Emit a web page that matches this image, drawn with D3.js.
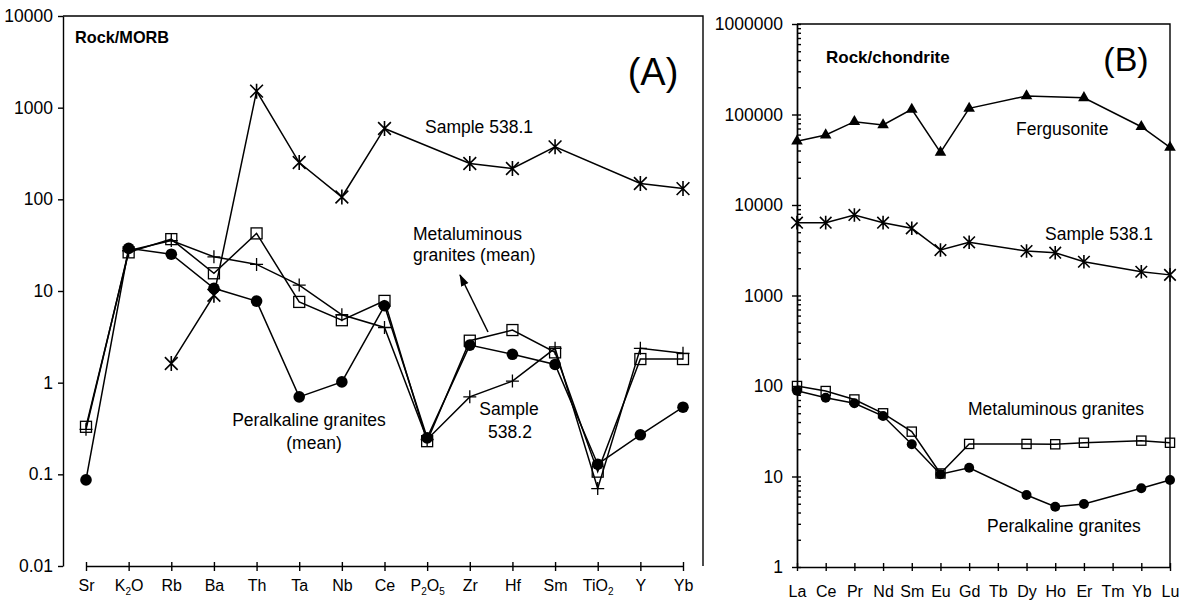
<!DOCTYPE html>
<html>
<head>
<meta charset="utf-8">
<script src="https://cdn.jsdelivr.net/npm/d3@7"></script>
<style>
  body { margin: 0; background: #fff; }
  svg { font-family: 'Liberation Sans', Arial, sans-serif; }
  .axis path, .axis line { stroke: #000; stroke-width: 1.4; }
  .axis text { fill: #000; }
  .frame { stroke: #000; stroke-width: 1.4; }
  .series { fill: none; stroke: #000; stroke-width: 1.5; }
  .note { font-size: 17.5px; fill: #000; }
</style>
</head>
<body>
<div id="chart"></div>
<script>
// (A) trace elements normalised to MORB
var elementsA = ['Sr', 'K2O', 'Rb', 'Ba', 'Th', 'Ta', 'Nb', 'Ce', 'P2O5', 'Zr', 'Hf', 'Sm', 'TiO2', 'Y', 'Yb'];
var ticksA = [0.01, 0.1, 1, 10, 100, 1000, 10000];
var sample5381A = [null, null, 1.62, 9.0, 1514, 252, 106, 593, null, 246, 217, 374, null, 149, 131];
var metaluminousA = [0.33, 26.4, 36.8, 15.6, 42.5, 7.6, 4.8, 7.8, 0.23, 2.87, 3.75, 2.14, 0.107, 1.81, 1.81];
var peralkalineA = [0.087, 29.2, 25.2, 10.7, 7.76, 0.70, 1.02, 6.9, 0.25, 2.57, 2.04, 1.58, 0.129, 0.27, 0.54];
var sample5382A = [0.31, 27.5, 35.5, 23.6, 19.5, 11.6, 5.5, 4.0, 0.24, 0.70, 1.04, 2.37, 0.070, 2.37, 2.09];

// (B) rare earth elements normalised to chondrite
var elementsB = ['La', 'Ce', 'Pr', 'Nd', 'Sm', 'Eu', 'Gd', 'Tb', 'Dy', 'Ho', 'Er', 'Tm', 'Yb', 'Lu'];
var ticksB = [1, 10, 100, 1000, 10000, 100000, 1000000];
var fergusoniteB = [50600, 59300, 83300, 76500, 114000, 38200, 117000, null, 160000, null, 153000, null, 73300, 43400];
var sample5381B = [6380, 6380, 7760, 6380, 5530, 3180, 3870, null, 3100, 2970, 2360, null, 1830, 1690];
var metaluminousB = [100, 88, 71, 49.9, 31.3, 10.8, 22.9, null, 22.9, 22.7, 23.6, null, 24.9, 23.6];
var peralkalineB = [88.7, 74.3, 64.4, 46.6, 22.7, 10.6, 12.5, null, 6.25, 4.64, 4.97, null, 7.4, 9.15];

var svg = d3
  .select('#chart')
  .append('svg')
  .attr('width', 1192)
  .attr('height', 602);

svg
  .append('defs')
  .append('marker')
  .attr('id', 'arrowhead')
  .attr('markerUnits', 'userSpaceOnUse')
  .attr('markerWidth', 12)
  .attr('markerHeight', 10)
  .attr('refX', 11)
  .attr('refY', 4)
  .attr('orient', 'auto')
  .append('path')
  .attr('d', 'M0,0 L12,4 L0,8 Z')
  .attr('fill', '#000');

// pair each element with its value, dropping the ones not analysed
function zip(elements, values) {
  return elements
    .map(function (el, i) {
      return { el: el, v: values[i] };
    })
    .filter(function (d) {
      return d.v != null;
    });
}

// element names like K2O get their digits set as subscripts
function subscriptLabels(sel) {
  sel.each(function (d) {
    var t = d3.select(this).text('');
    var parts = String(d).split(/(\d)/).filter(function (p) {
      return p !== '';
    });
    var down = false;
    parts.forEach(function (p) {
      var ts = t.append('tspan').text(p);
      if (/\d/.test(p)) {
        ts.attr('font-size', '10px').attr('dy', down ? 0 : 4);
        down = true;
      } else if (down) {
        ts.attr('dy', -4);
        down = false;
      }
    });
  });
}

function formatTick(d) {
  return d >= 1 ? d3.format('d')(d) : String(d);
}

function drawMarkers(g, data, x, y, type, s) {
  var pts = g
    .append('g')
    .selectAll('myPoints')
    .data(data)
    .enter()
    .append('g')
    .attr('transform', function (d) {
      return 'translate(' + x(d.el) + ',' + y(d.v) + ')';
    });

  if (type === 'circle') {
    pts.append('circle').attr('r', s).attr('fill', '#000');
  } else if (type === 'square') {
    pts
      .append('rect')
      .attr('x', -s)
      .attr('y', -s)
      .attr('width', 2 * s)
      .attr('height', 2 * s)
      .attr('fill', 'none')
      .attr('stroke', '#000')
      .attr('stroke-width', 1.3);
  } else if (type === 'plus') {
    pts
      .append('path')
      .attr('d', 'M' + -s + ',0H' + s + 'M0,' + -s + 'V' + s)
      .attr('stroke', '#000')
      .attr('stroke-width', 1.3);
  } else if (type === 'asterisk') {
    var k = s * 0.85;
    pts
      .append('path')
      .attr('d',
        'M' + -k + ',' + -k + 'L' + k + ',' + k +
        'M' + -k + ',' + k + 'L' + k + ',' + -k +
        'M0,' + -s + 'V' + s)
      .attr('stroke', '#000')
      .attr('stroke-width', 1.6);
  } else if (type === 'triangle') {
    pts
      .append('path')
      .attr('d', d3.symbol(d3.symbolTriangle, s)())
      .attr('fill', '#000');
  }
}

function drawSeries(g, series, x, y) {
  var line = d3
    .line()
    .x(function (d) {
      return x(d.el);
    })
    .y(function (d) {
      return y(d.v);
    });

  series.forEach(function (s) {
    g.append('path').attr('class', 'series').attr('d', line(s.data));
  });
  series.forEach(function (s) {
    drawMarkers(g, s.data, x, y, s.type, s.size);
  });
}

// ---------- panel A ----------
var wA = 640,
  hA = 550;
var gA = svg.append('g').attr('transform', 'translate(63,16)');

var xA = d3.scalePoint().domain(elementsA).range([23, 620]);
var yA = d3.scaleLog().domain([0.01, 10000]).range([hA, 0]);

gA.append('path')
  .attr('class', 'frame')
  .attr('fill', 'none')
  .attr('d', 'M0,0H' + wA + 'V' + hA);

var yAxisA = gA
  .append('g')
  .attr('class', 'axis')
  .call(d3.axisLeft(yA).tickValues(ticksA).tickFormat(formatTick).tickSize(5).tickSizeOuter(0).tickPadding(5));
yAxisA.selectAll('text').style('font-size', '17.5px');

var xAxisA = gA
  .append('g')
  .attr('class', 'axis')
  .attr('transform', 'translate(0,' + hA + ')')
  .call(d3.axisBottom(xA).tickSize(0).tickSizeOuter(0));
xAxisA.selectAll('.tick line').attr('y1', -4).attr('y2', 5);
xAxisA
  .selectAll('.tick text')
  .attr('y', 25)
  .attr('dy', 0)
  .style('font-size', '16px')
  .call(subscriptLabels);

drawSeries(gA, [
  { data: zip(elementsA, sample5381A), type: 'asterisk', size: 7.5 },
  { data: zip(elementsA, metaluminousA), type: 'square', size: 5.5 },
  { data: zip(elementsA, peralkalineA), type: 'circle', size: 5.8 },
  { data: zip(elementsA, sample5382A), type: 'plus', size: 6.5 },
], xA, yA);

gA.append('text')
  .attr('x', 12)
  .attr('y', 27)
  .style('font-size', '16.3px')
  .style('font-weight', 'bold')
  .text('Rock/MORB');

gA.append('text')
  .attr('x', 590)
  .attr('y', 69)
  .attr('text-anchor', 'middle')
  .style('font-size', '38px')
  .text('(A)');

gA.append('text').attr('class', 'note').attr('x', 362).attr('y', 117).text('Sample 538.1');
gA.append('text').attr('class', 'note').attr('x', 350).attr('y', 224).text('Metaluminous');
gA.append('text').attr('class', 'note').attr('x', 350).attr('y', 245).text('granites (mean)');

gA.append('line')
  .attr('x1', 425)
  .attr('y1', 316)
  .attr('x2', 397)
  .attr('y2', 259)
  .attr('stroke', '#000')
  .attr('stroke-width', 1.5)
  .attr('marker-end', 'url(#arrowhead)');

gA.append('text').attr('class', 'note').attr('x', 246).attr('y', 410).attr('text-anchor', 'middle').text('Peralkaline granites');
gA.append('text').attr('class', 'note').attr('x', 251).attr('y', 433).attr('text-anchor', 'middle').text('(mean)');
gA.append('text').attr('class', 'note').attr('x', 446).attr('y', 399).attr('text-anchor', 'middle').text('Sample');
gA.append('text').attr('class', 'note').attr('x', 447).attr('y', 422).attr('text-anchor', 'middle').text('538.2');

// ---------- panel B ----------
var wB = 373,
  hB = 543;
var gB = svg.append('g').attr('transform', 'translate(797,24)');

var xB = d3.scalePoint().domain(elementsB).range([0, wB]);
var yB = d3.scaleLog().domain([1, 1000000]).range([hB, 0]);

gB.append('path')
  .attr('class', 'frame')
  .attr('fill', 'none')
  .attr('d', 'M0,0H' + wB + 'V' + hB);

// minor ticks sit inside the frame
var minorB = [];
d3.range(0, 6).forEach(function (k) {
  d3.range(2, 10).forEach(function (m) {
    minorB.push(m * Math.pow(10, k));
  });
});
gB.append('g')
  .attr('class', 'axis')
  .call(d3.axisRight(yB).tickValues(minorB).tickFormat('').tickSize(4).tickSizeOuter(0));

var yAxisB = gB
  .append('g')
  .attr('class', 'axis')
  .call(d3.axisLeft(yB).tickValues(ticksB).tickFormat(formatTick).tickSize(5).tickSizeOuter(0).tickPadding(9));
yAxisB.selectAll('.tick line').attr('x2', -5).attr('x1', 4);
yAxisB.selectAll('text').style('font-size', '17.5px');

var xAxisB = gB
  .append('g')
  .attr('class', 'axis')
  .attr('transform', 'translate(0,' + hB + ')')
  .call(d3.axisBottom(xB).tickSize(0).tickSizeOuter(0));
xAxisB.selectAll('.tick line').attr('y1', -4).attr('y2', 4);
xAxisB
  .selectAll('.tick text')
  .attr('y', 30)
  .attr('dy', 0)
  .style('font-size', '16px');

drawSeries(gB, [
  { data: zip(elementsB, fergusoniteB), type: 'triangle', size: 58 },
  { data: zip(elementsB, sample5381B), type: 'asterisk', size: 6.8 },
  { data: zip(elementsB, metaluminousB), type: 'square', size: 4.6 },
  { data: zip(elementsB, peralkalineB), type: 'circle', size: 5 },
], xB, yB);

gB.append('text')
  .attr('x', 29)
  .attr('y', 39)
  .style('font-size', '17px')
  .style('font-weight', 'bold')
  .text('Rock/chondrite');

gB.append('text')
  .attr('x', 329)
  .attr('y', 47)
  .attr('text-anchor', 'middle')
  .style('font-size', '34px')
  .text('(B)');

gB.append('text').attr('class', 'note').attr('x', 219).attr('y', 111).text('Fergusonite');
gB.append('text').attr('class', 'note').attr('x', 248).attr('y', 216).text('Sample 538.1');
gB.append('text').attr('class', 'note').attr('x', 171).attr('y', 391).text('Metaluminous granites');
gB.append('text').attr('class', 'note').attr('x', 190).attr('y', 508).text('Peralkaline granites');
</script>
</body>
</html>
